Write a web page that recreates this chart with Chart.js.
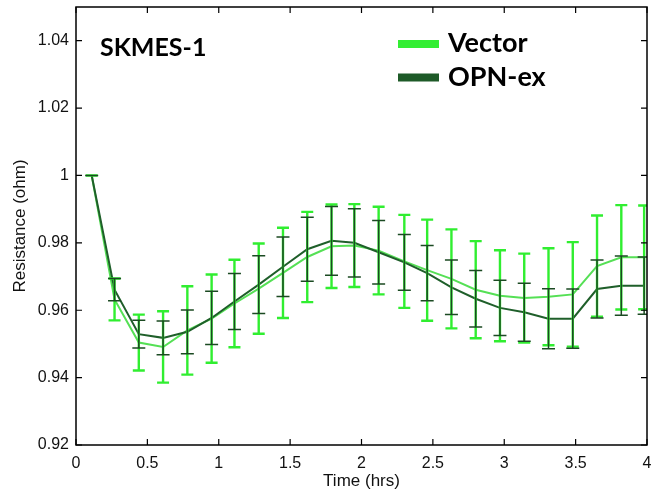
<!DOCTYPE html>
<html>
<head>
<meta charset="utf-8">
<script src="https://cdn.jsdelivr.net/npm/chart.js@4/dist/chart.umd.min.js"></script>
<style>
  html, body { margin: 0; padding: 0; background: #fff; }
  #wrap { width: 653px; height: 493px; }
</style>
</head>
<body>
<div id="wrap"><canvas id="c" width="653" height="493"></canvas></div>
<script>
// time points (hrs)
const times = [0.11, 0.27, 0.44, 0.61, 0.78, 0.95, 1.11, 1.28, 1.45, 1.62, 1.79, 1.95,
               2.12, 2.30, 2.46, 2.63, 2.80, 2.97, 3.14, 3.31, 3.48, 3.65, 3.82, 3.98];

// normalised resistance
const vectorVals = [1.000, 0.9632, 0.9504, 0.9491, 0.9540, 0.9575, 0.9620, 0.9664, 0.9711, 0.9758, 0.9790, 0.9792,
                    0.9777, 0.9745, 0.9719, 0.9693, 0.9661, 0.9643, 0.9636, 0.9640, 0.9647, 0.9731, 0.9757, 0.9757];
const vectorErr  = [0, 0.0062, 0.0083, 0.0106, 0.0131, 0.0131, 0.0130, 0.0134, 0.0134, 0.0134, 0.0124, 0.0123,
                    0.0130, 0.0138, 0.0150, 0.0147, 0.0144, 0.0135, 0.0132, 0.0144, 0.0155, 0.0150, 0.0155, 0.0154];
const opnVals    = [1.000, 0.9661, 0.9529, 0.9518, 0.9536, 0.9577, 0.9626, 0.9676, 0.9729, 0.9781, 0.9806, 0.9800,
                    0.9772, 0.9742, 0.9710, 0.9668, 0.9634, 0.9607, 0.9594, 0.9575, 0.9575, 0.9663, 0.9673, 0.9673];
const opnErr     = [0, 0.0033, 0.0041, 0.0050, 0.0065, 0.0079, 0.0083, 0.0086, 0.0088, 0.0095, 0.0102, 0.0101,
                    0.0094, 0.0083, 0.0082, 0.0081, 0.0084, 0.0082, 0.0086, 0.0089, 0.0088, 0.0086, 0.0088, 0.0085];

const seriesNames = ['Vector', 'OPN-ex'];
const panelLabel = 'SKMES-1';

// axis ticks
const xTicks = [0, 0.5, 1, 1.5, 2, 2.5, 3, 3.5, 4];
const xTickLabels = ['0', '0.5', '1', '1.5', '2', '2.5', '3', '3.5', '4'];
const yTicks = [0.92, 0.94, 0.96, 0.98, 1.00, 1.02, 1.04];
const yTickLabels = ['0.92', '0.94', '0.96', '0.98', '1', '1.02', '1.04'];

const VEC_LINE = '#55e055', VEC_BAR = '#30ee30', VEC_SWATCH = '#33ee33';
const OPN_LINE = '#1f5f2a', OPN_BAR = '#1b4a22', OPN_SWATCH = '#1e5a28';

const toPts = (xs, ys) => xs.map((x, i) => ({ x: x, y: ys[i] }));

// error bars drawn from data through the scales
const errorBars = {
  id: 'errorBars',
  afterDatasetsDraw(chart) {
    const { ctx, chartArea, scales } = chart;
    ctx.save();
    ctx.beginPath();
    ctx.rect(chartArea.left, chartArea.top, chartArea.right - chartArea.left, chartArea.bottom - chartArea.top);
    ctx.clip();
    const sets = [
      { vals: vectorVals, err: vectorErr, color: VEC_BAR, w: 2.4, cap: 6 },
      { vals: opnVals, err: opnErr, color: OPN_BAR, w: 1.5, cap: 6.5 }
    ];
    sets.forEach(s => {
      ctx.strokeStyle = s.color;
      ctx.lineWidth = s.w;
      times.forEach((t, i) => {
        const x = scales.x.getPixelForValue(t);
        const yTop = scales.y.getPixelForValue(s.vals[i] + s.err[i]);
        const yBot = scales.y.getPixelForValue(s.vals[i] - s.err[i]);
        ctx.beginPath();
        ctx.moveTo(x, yTop); ctx.lineTo(x, yBot);
        ctx.moveTo(x - s.cap, yTop); ctx.lineTo(x + s.cap, yTop);
        ctx.moveTo(x - s.cap, yBot); ctx.lineTo(x + s.cap, yBot);
        ctx.stroke();
      });
    });
    ctx.restore();
  }
};

// box, inward ticks, panel label and legend
const frame = {
  id: 'frame',
  afterDraw(chart) {
    const { ctx, chartArea: a, scales } = chart;
    ctx.save();
    ctx.strokeStyle = '#000';
    ctx.lineWidth = 1.5;
    ctx.strokeRect(a.left, a.top, a.right - a.left, a.bottom - a.top);
    ctx.lineWidth = 1.2;
    const tl = 6;
    ctx.beginPath();
    xTicks.forEach(v => {
      const x = scales.x.getPixelForValue(v);
      ctx.moveTo(x, a.bottom); ctx.lineTo(x, a.bottom - tl);
      ctx.moveTo(x, a.top); ctx.lineTo(x, a.top + tl);
    });
    yTicks.forEach(v => {
      const y = scales.y.getPixelForValue(v);
      ctx.moveTo(a.left, y); ctx.lineTo(a.left + tl, y);
      ctx.moveTo(a.right, y); ctx.lineTo(a.right - tl, y);
    });
    ctx.stroke();

    ctx.fillStyle = '#000';
    ctx.textBaseline = 'alphabetic';
    ctx.font = 'bold 25px Lato';
    ctx.fillText(panelLabel, 100, 56);

    ctx.font = 'bold 27px Lato';
    const sw = [VEC_SWATCH, OPN_SWATCH];
    seriesNames.forEach((n, i) => {
      const cy = 44 + i * 33.5;
      ctx.fillStyle = sw[i];
      ctx.fillRect(398, cy - 4, 41, 8);
      ctx.fillStyle = '#000';
      ctx.fillText(n, 448, cy + 8);
    });
    ctx.restore();
  }
};

new Chart(document.getElementById('c'), {
  type: 'line',
  data: {
    datasets: [
      { label: seriesNames[0], data: toPts(times, vectorVals), borderColor: VEC_LINE, borderWidth: 2, pointRadius: 0, tension: 0, order: 2 },
      { label: seriesNames[1], data: toPts(times, opnVals), borderColor: OPN_LINE, borderWidth: 2, pointRadius: 0, tension: 0, order: 1 }
    ]
  },
  options: {
    responsive: false,
    animation: false,
    layout: { padding: { top: 7, right: 6, left: 0, bottom: 0 } },
    plugins: { legend: { display: false }, tooltip: { enabled: false } },
    scales: {
      x: {
        type: 'linear', min: 0, max: 4,
        grid: { display: false, drawTicks: false },
        border: { display: false },
        afterBuildTicks: s => { s.ticks = xTicks.map(v => ({ value: v })); },
        afterFit: s => { s.height = 48; s.paddingLeft = 0; s.paddingRight = 0; },
        ticks: {
          padding: 9, maxRotation: 0, autoSkip: false,
          color: '#111', font: { family: 'Liberation Sans', size: 16 },
          callback: (v) => xTickLabels[xTicks.indexOf(v)]
        },
        title: { display: true, text: 'Time (hrs)', color: '#111', font: { family: 'Liberation Sans', size: 17 }, padding: { top: 0, bottom: 1 } }
      },
      y: {
        min: 0.92, max: 1.05,
        grid: { display: false, drawTicks: false },
        border: { display: false },
        afterBuildTicks: s => { s.ticks = yTicks.map(v => ({ value: v })); },
        afterFit: s => { s.width = 76; s.paddingTop = 0; s.paddingBottom = 0; },
        ticks: {
          padding: 7, autoSkip: false,
          color: '#111', font: { family: 'Liberation Sans', size: 16 },
          callback: (v) => yTickLabels[yTicks.findIndex(t => Math.abs(t - v) < 1e-9)]
        },
        title: { display: true, text: 'Resistance (ohm)', color: '#111', font: { family: 'Liberation Sans', size: 17 }, padding: { top: 10, bottom: 0 } }
      }
    }
  },
  plugins: [errorBars, frame]
});
</script>
</body>
</html>
